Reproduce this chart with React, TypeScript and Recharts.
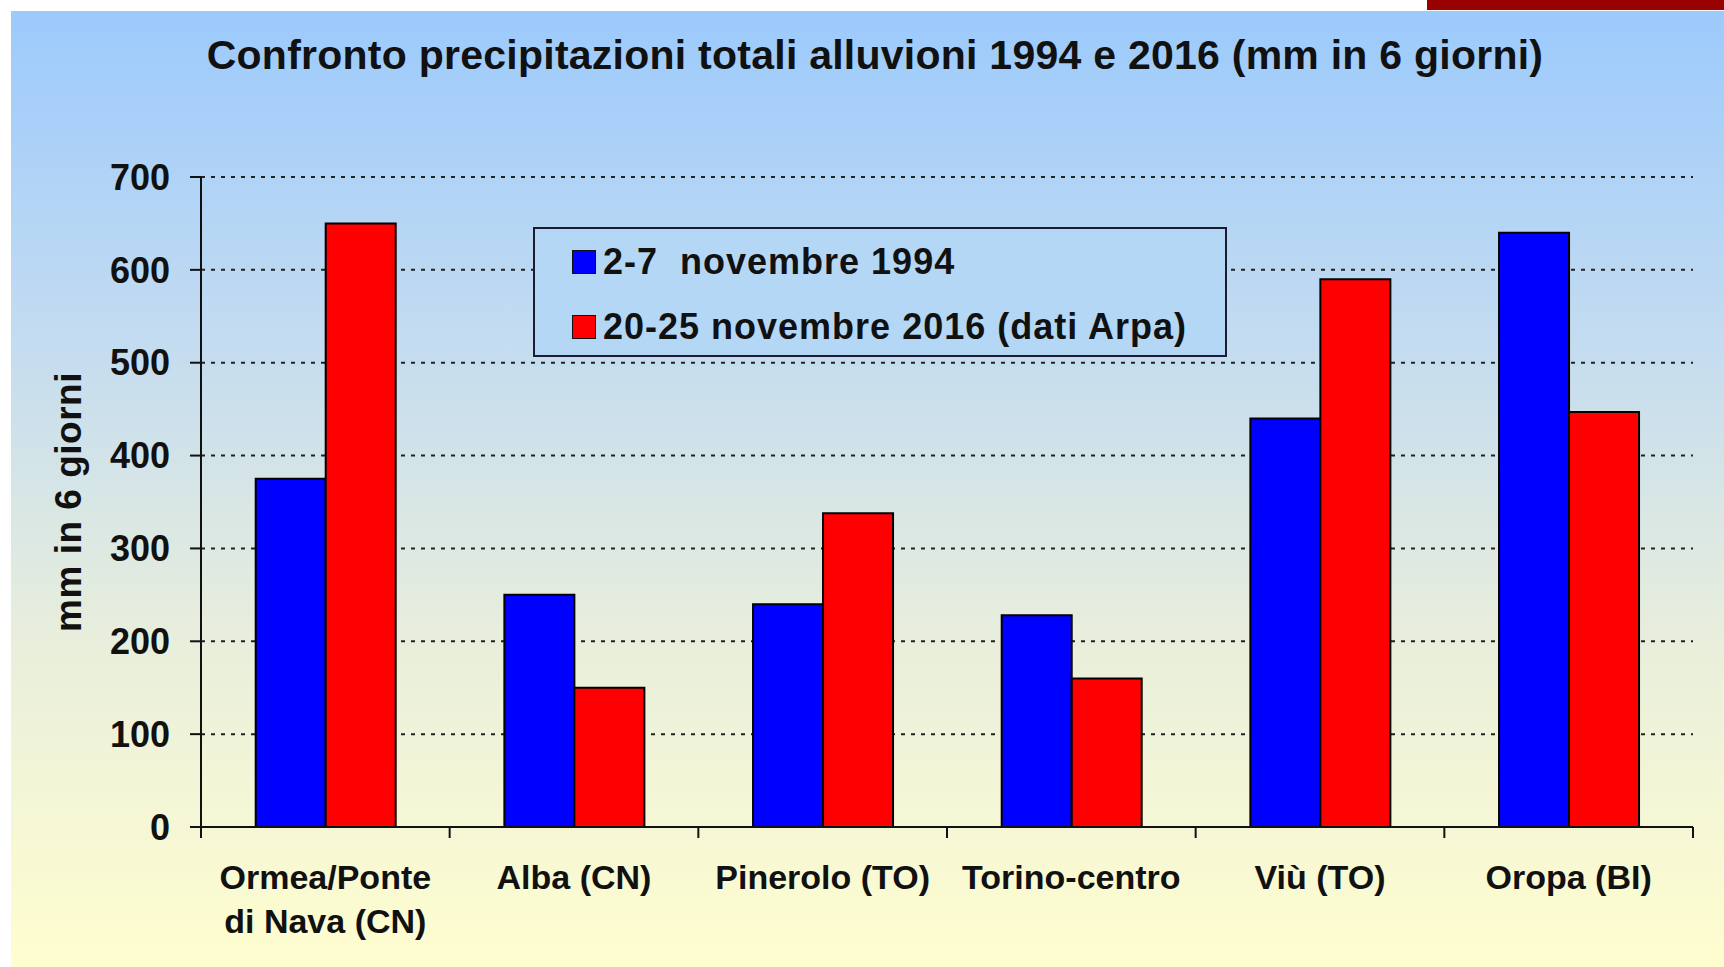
import React from "react";
import { BarChart, Bar, XAxis, YAxis, CartesianGrid, Legend } from "recharts";

const stations = [
  "Ormea/Ponte\ndi Nava (CN)",
  "Alba (CN)",
  "Pinerolo (TO)",
  "Torino-centro",
  "Viù (TO)",
  "Oropa (BI)",
];
const rain1994 = [375, 250, 240, 228, 440, 640];
const rain2016 = [650, 150, 338, 160, 590, 447];
const yTicks = [0, 100, 200, 300, 400, 500, 600, 700];
const seriesNames = ["2-7  novembre 1994", "20-25 novembre 2016 (dati Arpa)"];
const chartTitle = "Confronto precipitazioni totali alluvioni 1994 e 2016 (mm in 6 giorni)";
const yTitle = "mm in 6 giorni";

const data = stations.map((s, i) => ({ station: s, y1994: rain1994[i], y2016: rain2016[i] }));

const sans = "'Liberation Sans', Arial, sans-serif";

const StationTick = (props: any) => {
  const { x, y, payload, index, visibleTicksCount } = props;
  const half = payload.offset ?? 0;
  const lines = String(payload.value).split("\n");
  return (
    <g>
      <line x1={x - half} y1={y} x2={x - half} y2={y + 11} stroke="#111" strokeWidth={2} />
      {index === visibleTicksCount - 1 && (
        <line x1={x + half} y1={y} x2={x + half} y2={y + 11} stroke="#111" strokeWidth={2} />
      )}
      <text
        x={x}
        y={y + 50}
        textAnchor="middle"
        dominantBaseline="central"
        fill="#111"
        style={{ fontFamily: sans, fontSize: 34, fontWeight: 700 }}
      >
        {lines.map((l, i) => (
          <tspan key={i} x={x} dy={i === 0 ? 0 : 44}>
            {l}
          </tspan>
        ))}
      </text>
    </g>
  );
};

const LegendBox = (props: any) => {
  const items = props.payload || [];
  return (
    <div
      style={{
        boxSizing: "border-box",
        width: 694,
        height: 130,
        border: "2px solid #1c1c30",
        background: "#b4d7f6",
        paddingLeft: 37,
        paddingTop: 0,
      }}
    >
      {items.map((it: any, i: number) => (
        <div key={i} style={{ display: "flex", alignItems: "center", height: 65 }}>
          <span
            style={{
              width: 22,
              height: 22,
              background: it.color,
              border: "1px solid #111",
              marginRight: 7,
            }}
          />
          <span
            style={{
              fontFamily: sans,
              fontWeight: 700,
              fontSize: 36,
              color: "#111",
              whiteSpace: "pre",
              letterSpacing: 1,
            }}
          >
            {it.value}
          </span>
        </div>
      ))}
    </div>
  );
};

const YTitle = (props: any) => {
  const vb = props.viewBox;
  const cy = vb.y + vb.height / 2;
  return (
    <text
      x={68}
      y={cy}
      transform={`rotate(-90, 68, ${cy})`}
      textAnchor="middle"
      dominantBaseline="central"
      fill="#111"
      style={{ fontFamily: sans, fontSize: 37, fontWeight: 700, letterSpacing: 0.5 }}
    >
      {yTitle}
    </text>
  );
};

export default function App() {
  return (
    <div style={{ position: "absolute", left: 0, top: 0, width: 1724, height: 967, background: "#fff", overflow: "hidden" }}>
      <div
        style={{
          position: "absolute",
          left: 11,
          top: 11,
          width: 1713,
          height: 956,
          background: "linear-gradient(to bottom, #9ccafc 0%, #c4dcf0 35%, #e8eedc 65%, #fffecf 100%)",
        }}
      />
      <div style={{ position: "absolute", left: 1427, top: 0, width: 297, height: 10, background: "#990000" }} />
      <div
        style={{
          position: "absolute",
          left: 0,
          top: 32,
          width: 1750,
          textAlign: "center",
          fontFamily: sans,
          fontWeight: 700,
          fontSize: 41,
          letterSpacing: 0.25,
          lineHeight: "46px",
          color: "#111",
        }}
      >
        {chartTitle}
      </div>
      <div style={{ position: "absolute", left: 0, top: 0 }}>
        <BarChart
          width={1724}
          height={967}
          data={data}
          margin={{ top: 177, right: 31, bottom: 0, left: 0 }}
          barCategoryGap="22%"
          barGap={0}
        >
          <CartesianGrid vertical={false} stroke="#222" strokeWidth={2} strokeDasharray="4 6" />
          <XAxis
            dataKey="station"
            height={140}
            tickLine={false}
            tickSize={0}
            tickMargin={0}
            interval={0}
            axisLine={{ stroke: "#111", strokeWidth: 2 }}
            tick={<StationTick />}
          />
          <YAxis
            width={201}
            domain={[0, 700]}
            ticks={yTicks}
            interval={0}
            tickSize={11}
            tickMargin={20}
            axisLine={{ stroke: "#111", strokeWidth: 2 }}
            tickLine={{ stroke: "#111", strokeWidth: 2 }}
            tick={{ fill: "#111", fontSize: 36, fontWeight: 700, fontFamily: sans }}
            label={<YTitle />}
          />
          <Legend
            layout="horizontal"
            verticalAlign="middle"
            align="center"
            content={<LegendBox />}
            wrapperStyle={{ left: 533, top: 227, width: 694, height: 130 }}
          />
          <Bar dataKey="y1994" name={seriesNames[0]} fill="#0000ff" stroke="#000" strokeWidth={2} isAnimationActive={false} />
          <Bar dataKey="y2016" name={seriesNames[1]} fill="#ff0000" stroke="#000" strokeWidth={2} isAnimationActive={false} />
        </BarChart>
      </div>
    </div>
  );
}
